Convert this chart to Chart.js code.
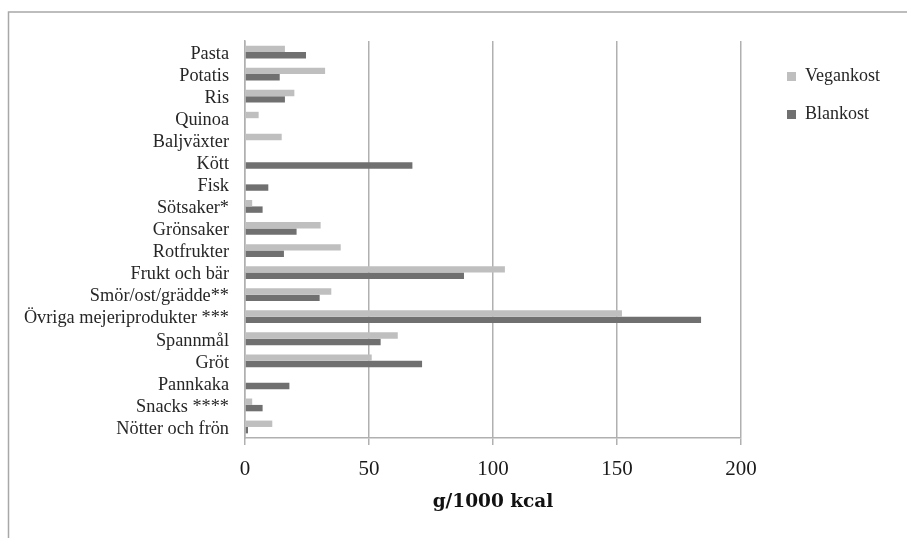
<!DOCTYPE html>
<html>
<head>
<meta charset="utf-8">
<script src="https://cdn.jsdelivr.net/npm/chart.js@4.4.1/dist/chart.umd.min.js"></script>
<style>
  html, body { margin: 0; padding: 0; background: #ffffff; }
  #wrap { position: relative; width: 907px; height: 538px; }
</style>
</head>
<body>
<div id="wrap"><canvas id="chart" width="907" height="538"></canvas></div>
<script>
// Livsmedelsgrupper, gram per 1000 kcal
const categories = [
  'Pasta', 'Potatis', 'Ris', 'Quinoa', 'Baljväxter', 'Kött', 'Fisk', 'Sötsaker*',
  'Grönsaker', 'Rotfrukter', 'Frukt och bär', 'Smör/ost/grädde**',
  'Övriga mejeriprodukter ***', 'Spannmål', 'Gröt', 'Pannkaka', 'Snacks ****',
  'Nötter och frön'
];
const vegankost = [16.1, 32.3, 19.9, 5.5, 14.8, 0, 0, 2.9, 30.5, 38.6, 104.8, 34.8, 152.0, 61.6, 51.1, 0, 2.9, 11.0];
const blankost  = [24.6, 14.0, 16.1, 0, 0, 67.5, 9.4, 7.1, 20.8, 15.7, 88.3, 30.1, 183.9, 54.7, 71.4, 17.9, 7.1, 1.2];
const xTickValues = [0, 50, 100, 150, 200];
const seriesNames = ['Vegankost', 'Blankost'];
const axisTitle = 'g/1000 kcal';

const SERIF = "'Liberation Serif', 'Times New Roman', serif";
const GRID = '#b0b0b0';

// Thin frame along the top and left edge of the chart panel
const framePlugin = {
  id: 'frame',
  beforeDraw(chart) {
    const ctx = chart.ctx;
    ctx.save();
    ctx.strokeStyle = '#a8a8a8';
    ctx.lineWidth = 1.5;
    ctx.beginPath();
    ctx.moveTo(8.5, chart.height);
    ctx.lineTo(8.5, 12);
    ctx.lineTo(chart.width, 12);
    ctx.stroke();
    ctx.restore();
  }
};

// Put the legend in the free space to the right of the plot
const legendPlacement = {
  id: 'legendPlacement',
  afterLayout(chart) {
    const lg = chart.legend;
    if (!lg) return;
    const w = lg.width, h = lg.height;
    lg.left = 767; lg.right = lg.left + w;
    lg.top = 47.5; lg.bottom = lg.top + Math.max(h, 120);
  }
};

new Chart(document.getElementById('chart'), {
  type: 'bar',
  data: {
    labels: categories,
    datasets: [
      { label: seriesNames[0], data: vegankost, backgroundColor: '#bfbfbf' },
      { label: seriesNames[1], data: blankost, backgroundColor: '#707070' }
    ]
  },
  options: {
    indexAxis: 'y',
    responsive: false,
    animation: false,
    devicePixelRatio: 1,
    categoryPercentage: 0.58,
    barPercentage: 1.0,
    layout: { padding: { top: 41, right: 166, bottom: 0, left: 0 } },
    plugins: {
      tooltip: { enabled: false },
      legend: {
        position: 'chartArea',
        align: 'start',
        labels: {
          boxWidth: 9,
          boxHeight: 9,
          padding: 20,
          color: '#262626',
          font: { family: SERIF, size: 18 }
        }
      }
    },
    scales: {
      x: {
        min: 0,
        max: 200,
        afterBuildTicks(scale) { scale.ticks = xTickValues.map(v => ({ value: v })); },
        afterFit(scale) { scale.height = 100; },
        grid: { color: GRID, lineWidth: 1.5, drawTicks: true, tickLength: 7 },
        border: { color: GRID, width: 1.5 },
        ticks: {
          padding: 12,
          color: '#1a1a1a',
          font: { family: SERIF, size: 21 }
        },
        title: {
          display: true,
          text: axisTitle,
          color: '#111111',
          font: { family: "'DejaVu Serif', serif", size: 18.5, weight: 'bold' },
          padding: { top: 0, bottom: 25 }
        }
      },
      y: {
        afterFit(scale) { scale.width = 245; },
        grid: { display: false, drawTicks: false },
        border: { display: true, color: GRID, width: 1.5 },
        ticks: {
          autoSkip: false,
          padding: 16,
          labelOffset: 2,
          color: '#262626',
          font: { family: SERIF, size: 18.3 }
        }
      }
    }
  },
  plugins: [framePlugin, legendPlacement]
});
</script>
</body>
</html>
